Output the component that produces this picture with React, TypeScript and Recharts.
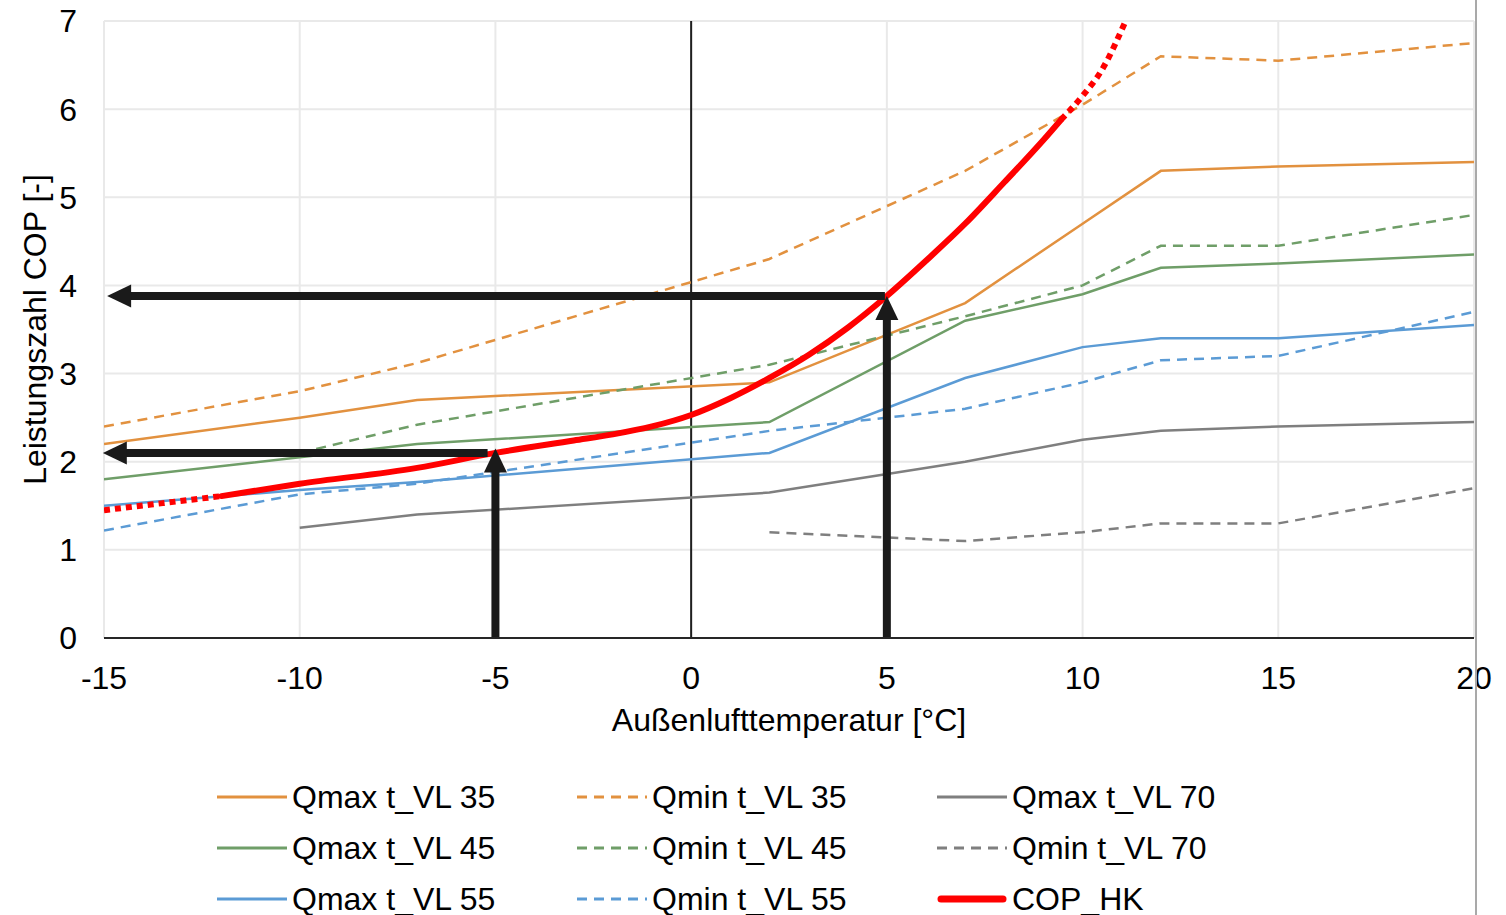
import React from 'react';
import { LineChart, Line, XAxis, YAxis, CartesianGrid, ReferenceLine } from 'recharts';

// temperature points of the manufacturer data
const tempsFull = [-15, -10, -7, 2, 7, 10, 12, 15, 20];
const tempsFrom10 = [-10, -7, 2, 7, 10, 12, 15, 20];
const tempsFrom2 = [2, 7, 10, 12, 15, 20];

const qmax35 = [2.2, 2.5, 2.7, 2.9, 3.8, 4.7, 5.3, 5.35, 5.4];
const qmin35 = [2.4, 2.8, 3.12, 4.3, 5.3, 6.05, 6.6, 6.55, 6.75];
const qmax45 = [1.8, 2.05, 2.2, 2.45, 3.6, 3.9, 4.2, 4.25, 4.35];
const qmin45 = [2.1, 2.42, 3.1, 3.65, 4.0, 4.45, 4.45, 4.8];
const qmax55 = [1.5, 1.68, 1.77, 2.1, 2.95, 3.3, 3.4, 3.4, 3.55];
const qmin55 = [1.22, 1.63, 1.75, 2.35, 2.6, 2.9, 3.15, 3.2, 3.7];
const qmax70 = [1.25, 1.4, 1.65, 2.0, 2.25, 2.35, 2.4, 2.45];
const qmin70 = [1.2, 1.1, 1.2, 1.3, 1.3, 1.7];

// COP_HK curve (solid part + dotted extrapolation)
const copTempsLow = [-15, -13.5, -12];
const copLow = [1.45, 1.53, 1.61];
const copTemps = [-12, -10, -7, -5, -3, -2, -1, 0, 1, 2, 3, 4, 5, 6, 7, 8, 9, 9.45];
const cop = [1.61, 1.75, 1.93, 2.1, 2.24, 2.31, 2.4, 2.53, 2.72, 2.95, 3.21, 3.52, 3.88, 4.28, 4.7, 5.17, 5.65, 5.88];
const copTempsHigh = [9.45, 10, 10.5, 11.1];
const copHigh = [5.88, 6.15, 6.45, 7.0];

// reading arrows: [start, end] in data units, tip at end
const arrows = [
  [[5, 0], [5, 3.88]],
  [[4.95, 3.88], [-14.92, 3.88]],
  [[-5, 0], [-5, 2.15]],
  [[-5.2, 2.1], [-15.03, 2.1]],
];

const xTicks = [-15, -10, -5, 0, 5, 10, 15, 20];
const yTicks = [0, 1, 2, 3, 4, 5, 6, 7];

const FONT = '"Liberation Sans", Arial, sans-serif';
const FS = 32;

const pts = (xs: number[], ys: number[]) => xs.map((x, i) => ({ x, y: ys[i] }));

const ORANGE = '#E2913F';
const GREEN = '#6F9E68';
const BLUE = '#5B9BD5';
const GRAY = '#7F7F7F';
const RED = '#FF0000';
const DASH = '10 7';

const series = [
  { name: 'Qmax t_VL 35', data: pts(tempsFull, qmax35), color: ORANGE, dash: undefined },
  { name: 'Qmin t_VL 35', data: pts(tempsFull, qmin35), color: ORANGE, dash: DASH },
  { name: 'Qmax t_VL 70', data: pts(tempsFrom10, qmax70), color: GRAY, dash: undefined },
  { name: 'Qmax t_VL 45', data: pts(tempsFull, qmax45), color: GREEN, dash: undefined },
  { name: 'Qmin t_VL 45', data: pts(tempsFrom10, qmin45), color: GREEN, dash: DASH },
  { name: 'Qmin t_VL 70', data: pts(tempsFrom2, qmin70), color: GRAY, dash: DASH },
  { name: 'Qmax t_VL 55', data: pts(tempsFull, qmax55), color: BLUE, dash: undefined },
  { name: 'Qmin t_VL 55', data: pts(tempsFull, qmin55), color: BLUE, dash: DASH },
];

const Arrow = (p: any) => {
  const { x1, y1, x2, y2 } = p;
  const dx = x2 - x1;
  const dy = y2 - y1;
  const len = Math.hypot(dx, dy) || 1;
  const ux = dx / len;
  const uy = dy / len;
  const head = 24;
  const half = 11.5;
  const bx = x2 - ux * head;
  const by = y2 - uy * head;
  const nx = -uy;
  const ny = ux;
  return (
    <g>
      <line x1={x1} y1={y1} x2={bx + ux} y2={by + uy} stroke="#1a1a1a" strokeWidth={8} />
      <polygon
        points={`${x2},${y2} ${bx + nx * half},${by + ny * half} ${bx - nx * half},${by - ny * half}`}
        fill="#1a1a1a"
      />
    </g>
  );
};

const XTick = ({ x, y, payload }: any) => (
  <text x={x} y={y} dy="0.71em" textAnchor="middle" fontSize={FS} fontFamily={FONT} fill="#000">
    {payload.value}
  </text>
);

const YTick = ({ x, y, payload }: any) => (
  <text x={x} y={y} dy="0.355em" textAnchor="end" fontSize={FS} fontFamily={FONT} fill="#000">
    {payload.value}
  </text>
);

const legendRows = [
  ['Qmax t_VL 35', 'Qmin t_VL 35', 'Qmax t_VL 70'],
  ['Qmax t_VL 45', 'Qmin t_VL 45', 'Qmin t_VL 70'],
  ['Qmax t_VL 55', 'Qmin t_VL 55', 'COP_HK'],
];

const LegendItem = ({ name }: { name: string }) => {
  const s = series.find((d) => d.name === name);
  const isCop = name === 'COP_HK';
  return (
    <div style={{ display: 'flex', alignItems: 'center', width: 360 }}>
      <svg width={75} height={12} style={{ flex: 'none' }}>
        {isCop ? (
          <line x1={4} y1={6} x2={66} y2={6} stroke={RED} strokeWidth={7} strokeLinecap="round" />
        ) : (
          <line x1={0} y1={6} x2={70} y2={6} stroke={s!.color} strokeWidth={3} strokeDasharray={s!.dash} />
        )}
      </svg>
      <span style={{ fontSize: FS, fontFamily: FONT, color: '#000', lineHeight: 1 }}>{name}</span>
    </div>
  );
};

export default function App() {
  return (
    <div style={{ position: 'absolute', left: 0, top: 0, width: 1506, height: 915, background: '#fff', overflow: 'hidden' }}>
      <LineChart width={1506} height={760} margin={{ top: 21, right: 32, bottom: 0, left: 0 }}>
        <CartesianGrid stroke="#E9E9E9" strokeWidth={2} />
        <XAxis
          type="number"
          dataKey="x"
          domain={[-15, 20]}
          ticks={xTicks}
          allowDataOverflow
          height={122}
          tickLine={false}
          tickSize={0}
          tickMargin={28}
          tick={<XTick />}
          axisLine={{ stroke: '#262626', strokeWidth: 2 }}
          label={{
            value: 'Außenlufttemperatur [°C]',
            position: 'insideBottom',
            offset: 29,
            fontSize: FS,
            fontFamily: FONT,
            fill: '#000',
          }}
        />
        <YAxis
          type="number"
          dataKey="y"
          domain={[0, 7]}
          ticks={yTicks}
          allowDataOverflow
          width={104}
          tickLine={false}
          tickSize={0}
          tickMargin={27}
          tick={<YTick />}
          axisLine={false}
          label={{
            value: 'Leistungszahl COP [-]',
            angle: -90,
            position: 'insideLeft',
            offset: 35,
            fontSize: FS,
            fontFamily: FONT,
            fill: '#000',
            style: { textAnchor: 'middle' },
          }}
        />
        <ReferenceLine x={0} stroke="#1f1f1f" strokeWidth={2} />
        {series.map((s) => (
          <Line
            key={s.name}
            data={s.data}
            dataKey="y"
            type="linear"
            stroke={s.color}
            strokeWidth={2.5}
            strokeDasharray={s.dash}
            dot={false}
            isAnimationActive={false}
          />
        ))}
        <Line data={pts(copTempsLow, copLow)} dataKey="y" type="monotone" stroke={RED} strokeWidth={6} strokeDasharray="6 5" dot={false} isAnimationActive={false} />
        <Line data={pts(copTempsHigh, copHigh)} dataKey="y" type="monotone" stroke={RED} strokeWidth={6} strokeDasharray="6 5" dot={false} isAnimationActive={false} />
        <Line data={pts(copTemps, cop)} dataKey="y" type="monotone" stroke={RED} strokeWidth={6} strokeLinecap="round" dot={false} isAnimationActive={false} />
        {arrows.map((a, i) => (
          <ReferenceLine
            key={i}
            segment={[{ x: a[0][0], y: a[0][1] }, { x: a[1][0], y: a[1][1] }]}
            ifOverflow="visible"
            shape={(p: any) => <Arrow {...p} />}
          />
        ))}
      </LineChart>
      <div style={{ position: 'absolute', left: 217, top: 771 }}>
        {legendRows.map((row, r) => (
          <div key={r} style={{ display: 'flex', height: 51 }}>
            {row.map((name) => (
              <LegendItem key={name} name={name} />
            ))}
          </div>
        ))}
      </div>
      <div style={{ position: 'absolute', left: 1475, top: 0, width: 2, height: 915, background: '#A9A9A9' }} />
    </div>
  );
}
